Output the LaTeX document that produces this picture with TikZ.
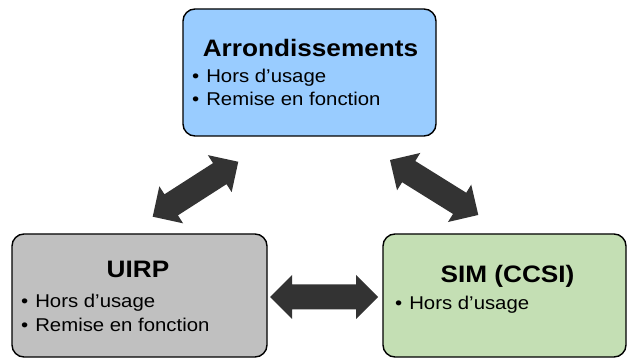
\documentclass[tikz,border=0pt]{standalone}
\usepackage{fontspec}
\setmainfont{Liberation Sans}[FakeStretch=1.1]
\usetikzlibrary{calc}
\definecolor{topblue}{HTML}{99CCFF}
\definecolor{leftgray}{HTML}{C0C0C0}
\definecolor{rightgreen}{HTML}{C4DFB4}
\definecolor{arrowgray}{HTML}{333333}
\tikzset{
  box/.style={draw=black, line width=1.4pt, rounded corners=12pt},
  boxtitle/.style={anchor=base, inner sep=0pt, font=\fontsize{23.8}{28}\selectfont\bfseries},
  bullets/.style={anchor=base west, inner sep=0pt, align=left, font=\fontsize{18.5}{23.5}\selectfont},
  dblarrow/.style={fill=arrowgray, draw=none},
}
\newcommand{\dblarrowpoly}[1]{%
  (0,0) -- (22,22) -- (22,12.5) -- (#1-22,12.5) -- (#1-22,22) -- (#1,0)
  -- (#1-22,-22) -- (#1-22,-12.5) -- (22,-12.5) -- (22,-22) -- cycle}
\begin{document}
\begin{tikzpicture}[x=1pt,y=1pt]
\useasboundingbox (0,0) rectangle (627,-358);
% boxes
\draw[box, fill=topblue] (183,-9) rectangle (436,-136);
\draw[box, fill=leftgray] (12,-234) rectangle (267,-357);
\draw[box, fill=rightgreen] (383,-234) rectangle (626,-357);
% top box texts (base anchor = last line baseline)
\node[boxtitle] (toptitle) at (310.5,-57) {Arrondissements};
\node[bullets] (toplist) at (192,-106) {\textbullet\hspace{7pt}Hors d’usage\\[0pt]\textbullet\hspace{7pt}Remise en fonction};
% left box texts
\node[boxtitle] (lefttitle) at (138,-278) {UIRP};
\node[bullets] (leftlist) at (21,-331) {\textbullet\hspace{7pt}Hors d’usage\\[0pt]\textbullet\hspace{7pt}Remise en fonction};
% right box texts
\node[boxtitle] (righttitle) at (507.5,-283) {SIM (CCSI)};
\node[bullets] (rightlist) at (395,-309) {\textbullet\hspace{7pt}Hors d’usage};
% arrows
\coordinate (la) at (152.7,-216.7);
\coordinate (ra) at (390,-160);
\coordinate (ha) at (270,-297);
\begin{scope}[shift={(la)}, rotate=32.7]
  \fill[dblarrow] \dblarrowpoly{101.7};
\end{scope}
\begin{scope}[shift={(ra)}, rotate=-31.9]
  \fill[dblarrow] \dblarrowpoly{104};
\end{scope}
\begin{scope}[shift={(ha)}]
  \fill[dblarrow] \dblarrowpoly{108};
\end{scope}
\end{tikzpicture}
\end{document}
